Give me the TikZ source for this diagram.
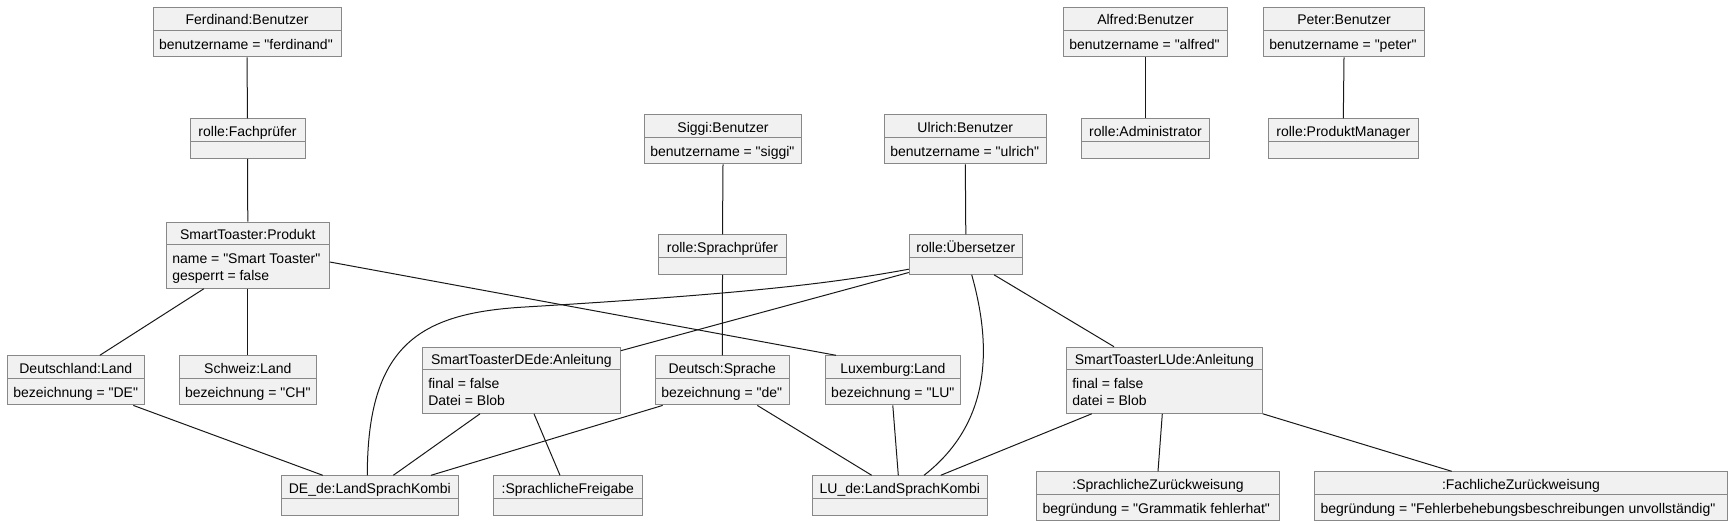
\documentclass[tikz,border=0pt]{standalone}
\usepackage{fontspec}
\setmainfont{Liberation Sans}[Ligatures=TeXOff]
\usetikzlibrary{shapes.multipart}
\definecolor{boxfill}{HTML}{F1F1F1}
\definecolor{boxline}{HTML}{888888}
\definecolor{linkcol}{HTML}{181818}
\newcommand{\headstrut}{\rule[-4.8pt]{0pt}{21.5pt}}
\newcommand{\attrstrut}{\rule[-7pt]{0pt}{25.6pt}}
\newcommand{\firststrut}{\rule{0pt}{18.6pt}}
\newcommand{\laststrut}{\rule[-7pt]{0pt}{7pt}}
\newcommand{\emptystrut}{\rule{0pt}{16pt}}
\begin{document}
\begin{tikzpicture}[x=1pt, y=-1pt,
  obj/.style={rectangle split, rectangle split parts=2, draw=boxline, fill=boxfill,
    line width=1pt, inner xsep=6pt, inner ysep=0pt, anchor=north, align=left,
    rectangle split part align={center,left}, font=\fontsize{14}{17}\selectfont},
  link/.style={draw=linkcol, line width=1pt}]
\useasboundingbox (0,0) rectangle (1736,524);
% Benutzer und Rollen
\node[obj, minimum width=188] (ferdinand) at (247,7.3) {\headstrut Ferdinand:Benutzer\nodepart{second}\attrstrut benutzername = "ferdinand"};
\node[obj, minimum width=115] (fachpruefer) at (247.5,118.3) {\headstrut rolle:Fachprüfer\nodepart{second}\emptystrut};
\node[obj, minimum width=157.4] (siggi) at (723,114.3) {\headstrut Siggi:Benutzer\nodepart{second}\attrstrut benutzername = "siggi"};
\node[obj, minimum width=128.4] (sprachpruefer) at (722.5,234.3) {\headstrut rolle:Sprachprüfer\nodepart{second}\emptystrut};
\node[obj, minimum width=162] (ulrich) at (965.3,114.3) {\headstrut Ulrich:Benutzer\nodepart{second}\attrstrut benutzername = "ulrich"};
\node[obj, minimum width=113] (uebersetzer) at (965.8,234.3) {\headstrut rolle:Übersetzer\nodepart{second}\emptystrut};
\node[obj, minimum width=164.4] (alfred) at (1145.5,7.3) {\headstrut Alfred:Benutzer\nodepart{second}\attrstrut benutzername = "alfred"};
\node[obj, minimum width=128.4] (administrator) at (1145.5,118.3) {\headstrut rolle:Administrator\nodepart{second}\emptystrut};
\node[obj, minimum width=161.4] (peter) at (1344,7.3) {\headstrut Peter:Benutzer\nodepart{second}\attrstrut benutzername = "peter"};
\node[obj, minimum width=150] (produktmanager) at (1343.3,118.3) {\headstrut rolle:ProduktManager\nodepart{second}\emptystrut};
% Produkt, Laender, Sprache
\node[obj, minimum width=163] (smarttoaster) at (247.8,221.7) {\headstrut SmartToaster:Produkt\nodepart{second}\firststrut name = "Smart Toaster"\\gesperrt = false\laststrut};
\node[obj, minimum width=137] (deutschland) at (75.8,355.3) {\headstrut Deutschland:Land\nodepart{second}\attrstrut bezeichnung = "DE"};
\node[obj, minimum width=137] (schweiz) at (247.8,355.3) {\headstrut Schweiz:Land\nodepart{second}\attrstrut bezeichnung = "CH"};
\node[obj, minimum width=198] (dede) at (521.3,346.7) {\headstrut SmartToasterDEde:Anleitung\nodepart{second}\firststrut final = false\\Datei = Blob\laststrut};
\node[obj, minimum width=134] (deutsch) at (722.3,355.3) {\headstrut Deutsch:Sprache\nodepart{second}\attrstrut bezeichnung = "de"};
\node[obj, minimum width=135] (luxemburg) at (892.8,355.3) {\headstrut Luxemburg:Land\nodepart{second}\attrstrut bezeichnung = "LU"};
\node[obj, minimum width=196] (lude) at (1164.3,346.7) {\headstrut SmartToasterLUde:Anleitung\nodepart{second}\firststrut final = false\\datei = Blob\laststrut};
% untere Reihe
\node[obj, minimum width=177] (dekombi) at (369.8,475.3) {\headstrut DE\_de:LandSprachKombi\nodepart{second}\emptystrut};
\node[obj, minimum width=149] (freigabe) at (567.8,475.3) {\headstrut :SprachlicheFreigabe\nodepart{second}\emptystrut};
\node[obj, minimum width=175] (lukombi) at (899.8,475.3) {\headstrut LU\_de:LandSprachKombi\nodepart{second}\emptystrut};
\node[obj, minimum width=243] (sprachzurueck) at (1158,471.3) {\headstrut :SprachlicheZurückweisung\nodepart{second}\attrstrut begründung = "Grammatik fehlerhat"};
\node[obj, minimum width=413] (fachzurueck) at (1521,471.3) {\headstrut :FachlicheZurückweisung\nodepart{second}\attrstrut begründung = "Fehlerbehebungsbeschreibungen unvollständig"};
% Verbindungen
\draw[link] (ferdinand.south) -- (fachpruefer.north);
\draw[link] (fachpruefer.south) -- (smarttoaster.north);
\draw[link] (siggi.south) -- (sprachpruefer.north);
\draw[link] (ulrich.south) -- (uebersetzer.north);
\draw[link] (alfred.south) -- (administrator.north);
\draw[link] (peter.south) -- (produktmanager.north);
\draw[link] ([xshift=-44pt]smarttoaster.south) -- ([xshift=24pt]deutschland.north);
\draw[link] (smarttoaster.south) -- (schweiz.north);
\draw[link] ([yshift=-40.3pt]smarttoaster.north east) -- ([xshift=-56.8pt]luxemburg.north);
\draw[link] (sprachpruefer.south) -- (deutsch.north);
\draw[link] ([xshift=57.5pt]deutschland.south) -- ([xshift=-47pt]dekombi.north);
\draw[link] ([xshift=-41.3pt]dede.south) -- ([xshift=23.5pt]dekombi.north);
\draw[link] ([xshift=12.7pt]dede.south) -- ([xshift=-7.8pt]freigabe.north);
\draw[link] ([xshift=-59.6pt]deutsch.south) -- ([xshift=61.2pt]dekombi.north);
\draw[link] ([xshift=35pt]deutsch.south) -- ([xshift=-28.1pt]lukombi.north);
\draw[link] (luxemburg.south) -- ([xshift=-1.5pt]lukombi.north);
% Uebersetzer
\draw[link] ([yshift=2.3pt]uebersetzer.south west) -- ([yshift=-4pt]dede.north east);
\draw[link] ([yshift=5.6pt]uebersetzer.south west) .. controls (839,282) and (760,293) .. (520,307.3) .. controls (420,314) and (367.3,345) .. ([xshift=-2.5pt]dekombi.north);
\draw[link] ([xshift=5.9pt]uebersetzer.south) .. controls (990,340) and (995,420) .. ([xshift=24.2pt]lukombi.north);
\draw[link] ([xshift=28.2pt]uebersetzer.south) -- ([xshift=-50.3pt]lude.north);
% Anleitung LU
\draw[link] ([xshift=-72.6pt]lude.south) -- ([xshift=40.9pt]lukombi.north);
\draw[link] ([xshift=-2pt]lude.south) -- (sprachzurueck.north);
\draw[link] (lude.south east) -- ([xshift=-69.3pt]fachzurueck.north);
\end{tikzpicture}
\end{document}
